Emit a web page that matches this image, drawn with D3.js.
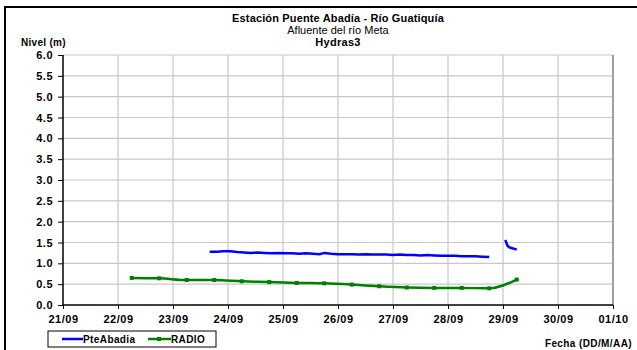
<!DOCTYPE html>
<html>
<head>
<meta charset="utf-8">
<script src="https://cdn.jsdelivr.net/npm/d3@7"></script>
<style>
  body { margin: 0; background: #fff; }
  svg text { font-family: "Liberation Sans", Arial, sans-serif; }
</style>
</head>
<body>
<div id="chart"></div>
<script>
(function () {
  // ---------- data ----------
  const yTicks = [0, 0.5, 1, 1.5, 2, 2.5, 3, 3.5, 4, 4.5, 5, 5.5, 6];
  const xTickLabels = ['21/09', '22/09', '23/09', '24/09', '25/09', '26/09', '27/09', '28/09', '29/09', '30/09', '01/10'];

  // PteAbadia (null = gap)
  const pteTimes = [
    '23/09 16:00', '23/09 19:00', '23/09 22:00', '24/09 01:00', '24/09 04:00', '24/09 07:00',
    '24/09 10:00', '24/09 13:00', '24/09 16:00', '24/09 19:00', '24/09 22:00', '25/09 01:00',
    '25/09 04:00', '25/09 07:00', '25/09 10:00', '25/09 13:00', '25/09 16:00', '25/09 18:00',
    '25/09 21:00', '26/09 00:00', '26/09 03:00', '26/09 06:00', '26/09 09:00', '26/09 12:00',
    '26/09 15:00', '26/09 18:00', '26/09 21:00', '27/09 00:00', '27/09 03:00', '27/09 06:00',
    '27/09 09:00', '27/09 12:00', '27/09 15:00', '27/09 18:00', '27/09 21:00', '28/09 00:00',
    '28/09 03:00', '28/09 06:00', '28/09 09:00', '28/09 12:00', '28/09 15:00', '28/09 18:00',
    '28/09 21:00',
    '29/09 01:00', '29/09 02:00', '29/09 03:00', '29/09 06:00'
  ];
  const pteValues = [
    1.28, 1.28, 1.29, 1.29, 1.27, 1.26,
    1.25, 1.26, 1.25, 1.24, 1.25, 1.24,
    1.24, 1.23, 1.24, 1.23, 1.22, 1.25,
    1.23, 1.22, 1.22, 1.22, 1.21, 1.22,
    1.21, 1.21, 1.21, 1.20, 1.21, 1.20,
    1.20, 1.19, 1.20, 1.19, 1.18, 1.18,
    1.18, 1.17, 1.17, 1.17, 1.16, 1.15,
    null,
    1.56, 1.42, 1.38, 1.33
  ];

  const radioTimes = [
    '22/09 06:00', '22/09 18:00', '23/09 06:00', '23/09 18:00', '24/09 06:00', '24/09 18:00',
    '25/09 06:00', '25/09 18:00', '26/09 06:00', '26/09 18:00', '27/09 06:00', '27/09 18:00',
    '28/09 06:00', '28/09 18:00', '29/09 06:00'
  ];
  const radioValues = [0.65, 0.64, 0.60, 0.60, 0.57, 0.55, 0.53, 0.52, 0.49, 0.45, 0.42, 0.41, 0.41, 0.40, 0.61];

  // ---------- setup ----------
  const width = 637, height = 350;
  const parse = s => d3.timeParse('%d/%m/%Y %H:%M')(s.replace(' ', '/2009 '));
  const parseDay = s => d3.timeParse('%d/%m/%Y')(s + '/2009');

  const margin = { left: 63, right: 24, top: 55, bottom: 45 };
  const svg = d3.select('#chart').append('svg')
    .attr('width', width).attr('height', height);

  // outer frame
  svg.append('rect')
    .attr('x', 5).attr('y', 7).attr('width', 700).attr('height', 400)
    .attr('fill', 'none').attr('stroke', '#000').attr('stroke-width', 2);

  const x = d3.scaleTime()
    .domain([parseDay('21/09'), parseDay('01/10')])
    .range([margin.left, width - margin.right]);
  const y = d3.scaleLinear().domain([0, 6]).range([height - margin.bottom, margin.top]);

  const x0 = margin.left, x1 = width - margin.right;
  const y0 = height - margin.bottom, y1 = margin.top;

  // grid
  const grid = svg.append('g');
  grid.selectAll('.hg').data(yTicks.slice(1)).join('line')
    .attr('x1', x0).attr('x2', x1)
    .attr('y1', d => y(d)).attr('y2', d => y(d))
    .attr('stroke', '#c8c8c8').attr('stroke-width', 1.2);
  grid.selectAll('.vg').data(xTickLabels.slice(1)).join('line')
    .attr('x1', d => x(parseDay(d))).attr('x2', d => x(parseDay(d)))
    .attr('y1', y1).attr('y2', y0)
    .attr('stroke', '#c8c8c8').attr('stroke-width', 1.2);
  // right border with shade
  svg.append('line').attr('x1', x1).attr('x2', x1).attr('y1', y1).attr('y2', y0)
    .attr('stroke', '#a0a0a0').attr('stroke-width', 2);

  // axes
  const yAxis = svg.append('g').attr('transform', `translate(${x0},0)`)
    .call(d3.axisLeft(y).tickValues(yTicks).tickFormat(d3.format('.1f')).tickSize(5).tickPadding(5));
  const xAxis = svg.append('g').attr('transform', `translate(0,${y0})`)
    .call(d3.axisBottom(x).tickValues(xTickLabels.map(parseDay)).tickFormat(d3.timeFormat('%d/%m')).tickSize(4).tickPadding(6));
  [yAxis, xAxis].forEach(a => {
    a.select('.domain').attr('stroke', '#000').attr('stroke-width', 1.5);
    a.selectAll('.tick line').attr('stroke', '#000');
    a.selectAll('text').attr('font-size', 11).attr('font-weight', 'bold')
      .attr('letter-spacing', 0.5)
      .attr('font-family', '"Liberation Sans", Arial, sans-serif').attr('fill', '#000');
  });
  xAxis.select('.domain').attr('d', `M${x0},0H${x1}`);
  yAxis.select('.domain').attr('d', `M0,${y0}V${y1}`);

  // series
  const pte = pteTimes.map((t, i) => ({ t: parse(t), v: pteValues[i] }));
  const radio = radioTimes.map((t, i) => ({ t: parse(t), v: radioValues[i] }));

  svg.append('path').datum(pte)
    .attr('fill', 'none').attr('stroke', '#0000ff').attr('stroke-width', 2.5)
    .attr('d', d3.line().defined(d => d.v != null).x(d => x(d.t)).y(d => y(d.v)));

  svg.append('path').datum(radio)
    .attr('fill', 'none').attr('stroke', '#008000').attr('stroke-width', 2.5)
    .attr('d', d3.line().curve(d3.curveMonotoneX).x(d => x(d.t)).y(d => y(d.v)));
  svg.append('g').selectAll('rect').data(radio).join('rect')
    .attr('x', d => x(d.t) - 2).attr('y', d => y(d.v) - 2)
    .attr('width', 4).attr('height', 4).attr('fill', '#008000');

  // titles
  const tx = 338;
  svg.append('text').attr('x', tx).attr('y', 22).attr('text-anchor', 'middle')
    .attr('font-size', 11).attr('font-weight', 'bold').attr('letter-spacing', 0.15)
    .text('Estación Puente Abadía  - Río Guatiquía');
  svg.append('text').attr('x', tx).attr('y', 34).attr('text-anchor', 'middle')
    .attr('font-size', 11).text('Afluente del río Meta');
  svg.append('text').attr('x', tx).attr('y', 46).attr('text-anchor', 'middle')
    .attr('font-size', 11).attr('font-weight', 'bold').attr('letter-spacing', 0.3).text('Hydras3');
  svg.append('text').attr('x', 21).attr('y', 46)
    .attr('font-size', 10).attr('font-weight', 'bold').attr('letter-spacing', 0.3).text('Nivel (m)');
  svg.append('text').attr('x', 632).attr('y', 347).attr('text-anchor', 'end')
    .attr('font-size', 10).attr('font-weight', 'bold').attr('letter-spacing', 0.4).text('Fecha (DD/M/AA)');

  // legend
  const lg = svg.append('g');
  lg.append('rect').attr('x', 48).attr('y', 331).attr('width', 168).attr('height', 16)
    .attr('fill', '#fff').attr('stroke', '#000').attr('stroke-width', 1);
  lg.append('line').attr('x1', 62).attr('x2', 83).attr('y1', 339).attr('y2', 339)
    .attr('stroke', '#0000ff').attr('stroke-width', 2.5);
  lg.append('text').attr('x', 83).attr('y', 343).attr('font-size', 10).attr('font-weight', 'bold')
    .attr('letter-spacing', 0.4).text('PteAbadia');
  lg.append('line').attr('x1', 148).attr('x2', 171).attr('y1', 339).attr('y2', 339)
    .attr('stroke', '#008000').attr('stroke-width', 2.5);
  lg.append('rect').attr('x', 157).attr('y', 337).attr('width', 4).attr('height', 4).attr('fill', '#008000');
  lg.append('text').attr('x', 171).attr('y', 343).attr('font-size', 10).attr('font-weight', 'bold')
    .attr('letter-spacing', 0.4).text('RADIO');
})();
</script>
</body>
</html>
